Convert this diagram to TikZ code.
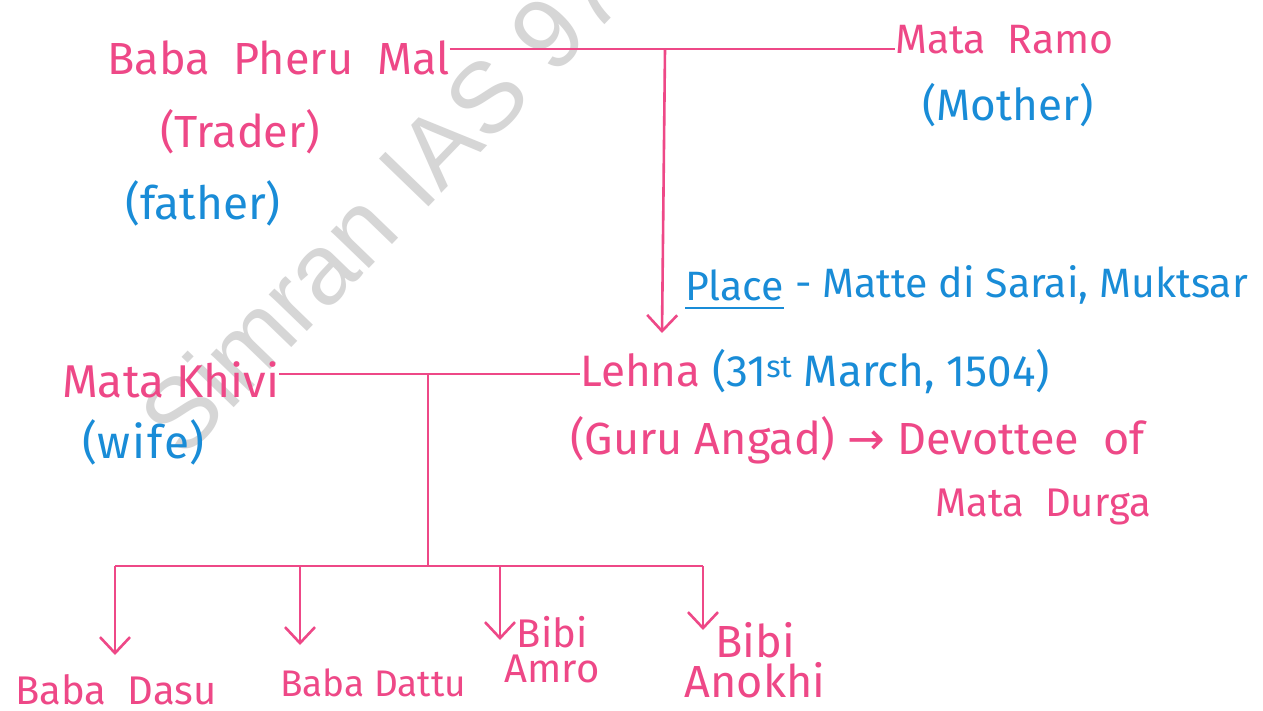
\documentclass[tikz,border=0pt]{standalone}
\usepackage{fontspec}
\setmainfont{Fira Sans}
\newfontfamily\arrowfont{DejaVu Sans}
\newfontfamily\wmfont{Liberation Sans}
\usetikzlibrary{arrows.meta}
\definecolor{pk}{RGB}{238,72,135}
\definecolor{bl}{RGB}{25,140,215}
\definecolor{wm}{RGB}{214,214,214}
\begin{document}
\begin{tikzpicture}[x=1pt,y=-1pt,
 fs/.style={font=\fontsize{#1}{#1}\selectfont},
 lbl/.style={inner sep=0pt, anchor=west, fs=42},
 pink/.style={lbl,text=pk}, blue/.style={lbl,text=bl},
 ln/.style={draw=pk, line width=2.6pt},
 arr/.style={ln, -{Straight Barb[length=16pt,width=30pt,line width=2.6pt]}}]
\useasboundingbox (0,0) rectangle (1263,711);
\fill[white] (0,0) rectangle (1263,711);
\clip (0,0) rectangle (1263,711);
% watermark
\node[text=wm, inner sep=0pt, anchor=base west, rotate=46, font=\wmfont\fontsize{100}{104}\selectfont] (wmark) at (183,461) {Simran IAS 97};
% parents
\node[pink, fs=45] (pheru) at (107,58) {Baba\ \ Pheru\ \ Mal};
\node[pink, fs=41] (ramo) at (895,40) {Mata\ \ Ramo};
\node[blue, fs=44] (mother) at (922,105) {(Mother)};
\node[pink, fs=45] (trader) at (160,132) {(Trader)};
\node[blue, fs=46] (father) at (125,203) {(father)};
\coordinate (pj) at (665,49);
\coordinate (lt) at (662,333);
\draw[ln] (pheru.east |- pj) -- (ramo.west |- pj);
\draw[arr] (pj) -- (lt);
\node[blue, fs=41] (placew) at (685,285) {Place};
\node[blue, fs=41] (placer) at (placew.east) {\ - Matte di Sarai, Muktsar};
\draw[bl, line width=2.5pt] ([yshift=-7pt]placew.south west) -- ([yshift=-7pt]placew.south east);
% Lehna
\node[lbl, fs=44] (lehna) at (580,372) {\textcolor{pk}{Lehna} \textcolor{bl}{(31\textsuperscript{st} March, 1504)}};
\node[pink, fs=45] (angad) at (570,440) {(Guru Angad)\ {\arrowfont→}\ Devottee\ \ of};
\node[pink, fs=40] (durga) at (935,507) {Mata\ \ Durga};
\node[pink, fs=46] (khivi) at (62,380) {Mata Khivi};
\node[blue, fs=46] (wife) at (82,442) {(w\hspace{2pt}i\hspace{2pt}f\hspace{2pt}e)};
\coordinate (cj) at (428,374);
\draw[ln] (khivi.east |- cj) -- (lehna.west |- cj);
% children
\coordinate (bus) at (428,566);
\coordinate (b1) at (115,566);
\coordinate (b2) at (300,566);
\coordinate (b3) at (500,566);
\coordinate (b4) at (703,566);
\coordinate (t1) at (115,655);
\coordinate (t2) at (300,645);
\coordinate (t3) at (500,640);
\coordinate (t4) at (703,630);
\draw[ln] (cj) -- (bus);
\draw[ln] (b1) -- (b4);
\node[pink, fs=40] (dasu) at (15,690) {Baba\ \ Dasu};
\node[pink, fs=37] (dattu) at (280,683) {Baba Dattu};
\node[pink, anchor=center, align=center, font=\fontsize{40}{35}\selectfont] (amro) at (552,650) {Bibi\\Amro};
\node[pink, anchor=center, align=center, font=\fontsize{45}{40}\selectfont] (anokhi) at (755,660) {Bibi\\Anokhi};
\draw[arr] (b1) -- (t1);
\draw[arr] (b2) -- (t2);
\draw[arr] (b3) -- (t3);
\draw[arr] (b4) -- (t4);
\end{tikzpicture}
\end{document}
